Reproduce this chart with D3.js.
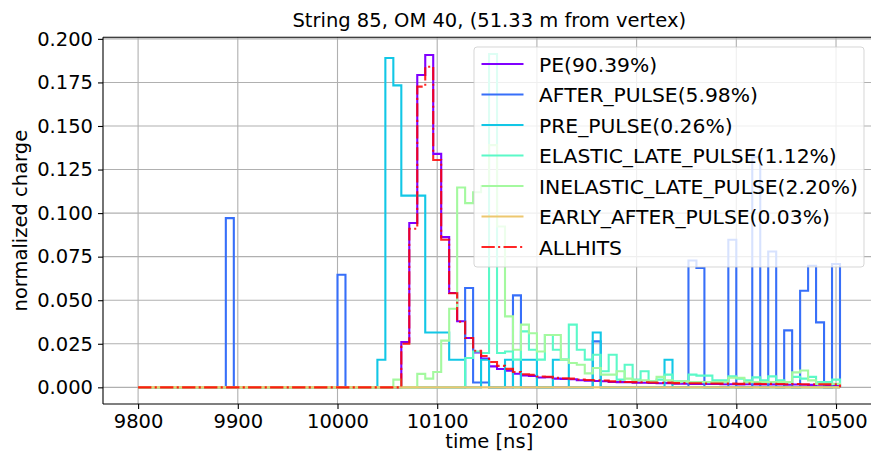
<!DOCTYPE html>
<html>
<head>
<meta charset="utf-8">
<script src="https://cdn.jsdelivr.net/npm/d3@7"></script>
<style>
body { margin: 0; background: #fff; }
svg text { font-family: "DejaVu Sans", sans-serif; fill: #000; }
</style>
</head>
<body>
<div id="chart"></div>
<script>
(function() {
"use strict";

var titleText = "String 85, OM 40, (51.33 m from vertex)";
var xTicks = [9800, 9900, 10000, 10100, 10200, 10300, 10400, 10500];
var yTicks = [0, 0.025, 0.05, 0.075, 0.1, 0.125, 0.15, 0.175, 0.2];

// 88 bins of 8 ns, from 9800 ns
var binStart = 9800, binWidth = 8;

var seriesNames = ["PE(90.39%)", "AFTER_PULSE(5.98%)", "PRE_PULSE(0.26%)",
  "ELASTIC_LATE_PULSE(1.12%)", "INELASTIC_LATE_PULSE(2.20%)",
  "EARLY_AFTER_PULSE(0.03%)", "ALLHITS"];
var seriesColors = ["#8000ff", "#376ff9", "#12c7e6", "#5bf9c8", "#a4f99f", "#edc76f", "#ff0000"];

var pe = [
  0, 0, 0, 0, 0, 0, 0, 0,
  0, 0, 0, 0, 0, 0, 0, 0,
  0, 0, 0, 0, 0, 0, 0, 0,
  0, 0, 0, 0, 0, 0, 0, 0,
  0, 0.026, 0.0943, 0.1793, 0.1907, 0.134, 0.0862, 0.0541,
  0.0379, 0.0283, 0.020, 0.0165, 0.012, 0.0105, 0.0095, 0.0078,
  0.0068, 0.0066, 0.0056, 0.0058, 0.0050, 0.0048, 0.0046, 0.0041,
  0.0038, 0.0036, 0.0035, 0.0031, 0.0030, 0.0029, 0.0027, 0.0026,
  0.0025, 0.0023, 0.0024, 0.0021, 0.0021, 0.0020, 0.0020, 0.0019,
  0.0019, 0.0018, 0.0018, 0.0017, 0.0018, 0.0017, 0.0016, 0.0017,
  0.0016, 0.0015, 0.0016, 0.0015, 0.0014, 0.0015, 0.0014, 0.0014
];
var afterPulse = [
  0, 0, 0, 0, 0, 0, 0, 0,
  0, 0, 0, 0.0971, 0, 0, 0, 0,
  0, 0, 0, 0, 0, 0, 0, 0,
  0, 0.0646, 0, 0, 0, 0, 0, 0,
  0, 0, 0, 0, 0, 0, 0, 0,
  0, 0.057, 0.0028, 0.0028, 0, 0, 0, 0.0528,
  0, 0, 0, 0, 0, 0, 0, 0,
  0, 0.0264, 0, 0, 0, 0, 0, 0,
  0, 0, 0, 0, 0, 0.0728, 0.0685, 0,
  0, 0, 0.0847, 0, 0, 0.1321, 0, 0.078,
  0, 0.0327, 0, 0.0554, 0.0698, 0.0373, 0, 0.0708
];
var prePulse = [
  0, 0, 0, 0, 0, 0, 0, 0,
  0, 0, 0, 0, 0, 0, 0, 0,
  0, 0, 0, 0, 0, 0, 0, 0,
  0, 0, 0, 0, 0, 0, 0.0158, 0.189,
  0.1733, 0.110, 0.110, 0.110, 0.0315, 0.0315, 0.0315, 0.0158,
  0.0158, 0, 0, 0.0158, 0, 0, 0.0158, 0,
  0.0158, 0.0158, 0, 0, 0.0158, 0.0158, 0, 0,
  0, 0.0315, 0, 0, 0, 0, 0, 0,
  0, 0, 0.0158, 0, 0, 0, 0, 0,
  0, 0, 0, 0, 0, 0, 0, 0,
  0, 0, 0, 0, 0, 0, 0, 0
];
var elasticLate = [
  0, 0, 0, 0, 0, 0, 0, 0,
  0, 0, 0, 0, 0, 0, 0, 0,
  0, 0, 0, 0, 0, 0, 0, 0,
  0, 0, 0, 0, 0, 0, 0, 0,
  0, 0, 0, 0, 0, 0, 0, 0,
  0, 0.0168, 0.0206, 0.0197, 0.1913, 0.0197, 0.0206, 0.0159,
  0.0321, 0.0216, 0.0159, 0.030, 0.0216, 0.0159, 0.036, 0.0216,
  0.0159, 0.0187, 0.0092, 0.0187, 0.0044, 0.013, 0.0044, 0.0092,
  0.0034, 0.0044, 0.0073, 0.0034, 0.0034, 0.0073, 0.0067, 0.0067,
  0.004, 0.004, 0.0063, 0.005, 0.004, 0.0057, 0.004, 0.0063,
  0.004, 0.003, 0.006, 0.005, 0.006, 0.003, 0.003, 0.0044
];
var inelasticLate = [
  0, 0, 0, 0, 0, 0, 0, 0,
  0, 0, 0, 0, 0, 0, 0, 0,
  0, 0, 0, 0, 0, 0, 0, 0,
  0, 0, 0, 0, 0, 0, 0, 0,
  0.0044, 0, 0, 0.0077, 0.005, 0.0088, 0.0268, 0.0451,
  0.1147, 0.1057, 0.112, 0.1155, 0.139, 0.0923, 0.0407, 0.0216,
  0.036, 0.031, 0.0206, 0.030, 0.030, 0.0159, 0.014, 0.013,
  0.008, 0.0111, 0.0073, 0.0073, 0.0092, 0.005, 0.004, 0.004,
  0.0034, 0.006, 0.004, 0.003, 0.0034, 0.003, 0.003, 0.003,
  0.003, 0.003, 0.0055, 0.0055, 0.003, 0.003, 0.003, 0.003,
  0.003, 0.003, 0.0086, 0.0097, 0.004, 0.002, 0.002, 0.002
];
var earlyAfterPulse = [
  0, 0, 0, 0, 0, 0, 0, 0,
  0, 0, 0, 0, 0, 0, 0, 0,
  0, 0, 0, 0, 0, 0, 0, 0,
  0, 0, 0, 0, 0, 0, 0, 0,
  0, 0, 0, 0, 0, 0, 0, 0,
  0, 0, 0, 0, 0, 0, 0, 0,
  0, 0, 0, 0, 0, 0, 0, 0,
  0, 0, 0, 0, 0, 0, 0, 0,
  0, 0, 0, 0, 0, 0, 0, 0,
  0, 0, 0, 0, 0, 0, 0, 0,
  0, 0, 0, 0, 0, 0, 0, 0
];
var allHits = [
  0, 0, 0, 0, 0, 0, 0, 0,
  0, 0, 0, 0, 0, 0, 0, 0,
  0, 0, 0, 0, 0, 0, 0, 0,
  0, 0, 0, 0, 0, 0, 0, 0,
  0, 0.025, 0.091, 0.1726, 0.184, 0.1305, 0.0847, 0.054,
  0.0376, 0.0283, 0.021, 0.018, 0.0145, 0.0123, 0.0106, 0.0088,
  0.0075, 0.0072, 0.0062, 0.0061, 0.0054, 0.0052, 0.005, 0.0045,
  0.0042, 0.004, 0.0039, 0.0034, 0.0033, 0.0031, 0.003, 0.0029,
  0.0028, 0.0026, 0.0027, 0.0024, 0.0024, 0.0023, 0.0023, 0.0022,
  0.0022, 0.0021, 0.0021, 0.002, 0.0021, 0.002, 0.0019, 0.002,
  0.0019, 0.0018, 0.0019, 0.0018, 0.0017, 0.0018, 0.0017, 0.0017
];
var seriesValues = [pe, afterPulse, prePulse, elasticLate, inelasticLate, earlyAfterPulse, allHits];

var width = 871, height = 457;
var left = 103, right = 875.5, top = 37.3, bottom = 404;

var svg = d3.select("#chart").append("svg")
  .attr("width", width)
  .attr("height", height);

var x = d3.scaleLinear().domain([9764.8, 10539.6]).range([left, right]);
var y = d3.scaleLinear().domain([-0.00957, 0.2009]).range([bottom, top]);

// grid
svg.append("g").selectAll("line")
  .data(xTicks)
  .enter().append("line")
  .attr("x1", function(d) { return x(d); })
  .attr("x2", function(d) { return x(d); })
  .attr("y1", top).attr("y2", bottom)
  .attr("stroke", "#b0b0b0").attr("stroke-width", 1.1);
svg.append("g").selectAll("line")
  .data(yTicks)
  .enter().append("line")
  .attr("x1", left).attr("x2", right)
  .attr("y1", function(d) { return y(d); })
  .attr("y2", function(d) { return y(d); })
  .attr("stroke", "#b0b0b0").attr("stroke-width", 1.1);

// histogram steps
function stepPoints(vals) {
  var pts = [[binStart, 0]];
  for (var i = 0; i < vals.length; i++) {
    pts.push([binStart + i * binWidth, vals[i]]);
    pts.push([binStart + (i + 1) * binWidth, vals[i]]);
  }
  pts.push([binStart + vals.length * binWidth, 0]);
  return pts;
}
var line = d3.line()
  .x(function(d) { return x(d[0]); })
  .y(function(d) { return y(d[1]); });

var plot = svg.append("g");
seriesValues.forEach(function(vals, i) {
  var p = plot.append("path")
    .attr("d", line(stepPoints(vals)))
    .attr("fill", "none")
    .attr("stroke", seriesColors[i])
    .attr("stroke-width", 2.1)
    .attr("stroke-linejoin", "miter");
  if (i === 6) {
    p.attr("stroke-dasharray", "13.3,3.3,2.1,3.3")
      .attr("stroke-opacity", 0.85);
  }
});

// axes
var xAxis = d3.axisBottom(x).tickValues(xTicks).tickSize(5).tickPadding(5)
  .tickFormat(d3.format("d"));
var yAxis = d3.axisLeft(y).tickValues(yTicks).tickSize(5).tickPadding(5)
  .tickFormat(d3.format(".3f"));
var gx = svg.append("g").attr("transform", "translate(0," + bottom + ")").call(xAxis);
var gy = svg.append("g").attr("transform", "translate(" + left + ",0)").call(yAxis);
[gx, gy].forEach(function(g) {
  g.select(".domain").remove();
  g.selectAll("line").attr("stroke", "#000").attr("stroke-width", 1.1);
  g.selectAll("text").style("font-size", "19.5px").attr("fill", "#000");
});
svg.append("line").attr("x1", left).attr("x2", left).attr("y1", top).attr("y2", bottom)
  .attr("stroke", "#000").attr("stroke-width", 1.1);
svg.append("line").attr("x1", left).attr("x2", right).attr("y1", bottom).attr("y2", bottom)
  .attr("stroke", "#000").attr("stroke-width", 1.1);
svg.append("line").attr("x1", left).attr("x2", right).attr("y1", top).attr("y2", top)
  .attr("stroke", "#000").attr("stroke-width", 1.1);

// labels
svg.append("text")
  .attr("x", (left + right) / 2).attr("y", 27)
  .attr("text-anchor", "middle")
  .style("font-size", "19.5px")
  .text(titleText);
svg.append("text")
  .attr("x", (left + right) / 2).attr("y", 448)
  .attr("text-anchor", "middle")
  .style("font-size", "19.5px")
  .text("time [ns]");
svg.append("text")
  .attr("transform", "translate(27," + ((top + bottom) / 2) + ") rotate(-90)")
  .attr("text-anchor", "middle")
  .style("font-size", "19.5px")
  .text("normalized charge");

// legend
var lg = svg.append("g").attr("transform", "translate(474,47)");
lg.append("rect")
  .attr("width", 390).attr("height", 220)
  .attr("rx", 3).attr("ry", 3)
  .attr("fill", "#fff").attr("fill-opacity", 0.8)
  .attr("stroke", "#cccccc").attr("stroke-opacity", 0.8);
seriesNames.forEach(function(name, i) {
  var yy = 17 + i * 30.5;
  var l = lg.append("line")
    .attr("x1", 7.5).attr("x2", 49.5)
    .attr("y1", yy).attr("y2", yy)
    .attr("stroke", seriesColors[i]).attr("stroke-width", 2.1);
  if (i === 6) {
    l.attr("stroke-dasharray", "13.3,3.3,2.1,3.3").attr("stroke-opacity", 0.85);
  }
  lg.append("text")
    .attr("x", 65).attr("y", yy + 7.5)
    .style("font-size", "20.3px")
    .text(name);
});

})();
</script>
</body>
</html>
